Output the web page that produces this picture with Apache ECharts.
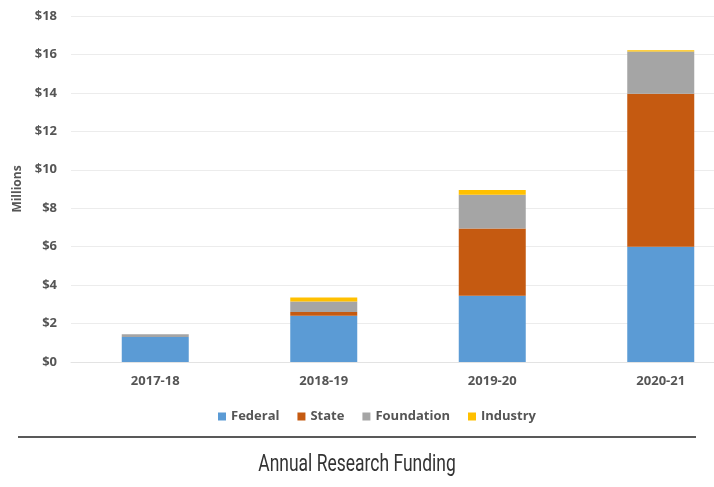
<!DOCTYPE html>
<html>
<head>
<meta charset="utf-8">
<style>
  html, body { margin: 0; padding: 0; background: #fff; overflow: hidden; width: 714px; height: 487px; }
  #chart { width: 745px; height: 487px; }
</style>
<script src="https://cdn.jsdelivr.net/npm/echarts@6/dist/echarts.min.js"></script>
</head>
<body>
<div id="chart"></div>
<script>
// Fiscal years on the category axis
const years = ['2017-18', '2018-19', '2019-20', '2020-21'];

// Funding by source, in millions of dollars
const federal    = [1.3, 2.4, 3.45, 6.0];
const state      = [0.0, 0.2, 3.5, 7.95];
const foundation = [0.15, 0.55, 1.75, 2.2];
const industry   = [0.0, 0.2, 0.25, 0.07];

// Value axis ticks
const yTicks = [0, 2, 4, 6, 8, 10, 12, 14, 16, 18];

const chart = echarts.init(document.getElementById('chart'), null, { renderer: 'canvas' });

const labelFont = { color: '#555', fontFamily: 'Open Sans, DejaVu Sans, sans-serif', fontWeight: 'bold', fontSize: 13 };

function stackSeries(name, data, color) {
  return {
    name: name,
    type: 'bar',
    stack: 'funding',
    data: data,
    barWidth: 67,
    itemStyle: { color: color },
    emphasis: { disabled: true }
  };
}

chart.setOption({
  animation: false,
  legend: {
    data: ['Federal', 'State', 'Foundation', 'Industry'],
    left: 213,
    top: 405,
    icon: 'rect',
    itemWidth: 8,
    itemHeight: 8,
    itemGap: 18,
    textStyle: Object.assign({}, labelFont, { fontSize: 13 })
  },
  grid: { left: 71, right: 0, top: 16, bottom: 125, containLabel: false },
  xAxis: {
    type: 'category',
    data: years,
    axisLine: { lineStyle: { color: '#e3e3e3' } },
    axisTick: { show: false },
    axisLabel: Object.assign({}, labelFont, { margin: 13 })
  },
  yAxis: {
    type: 'value',
    min: yTicks[0],
    max: yTicks[yTicks.length - 1],
    interval: 2,
    name: 'Millions',
    nameLocation: 'middle',
    nameGap: 44,
    nameRotate: 90,
    nameTextStyle: Object.assign({}, labelFont, { fontSize: 12 }),
    axisLine: { show: false },
    axisTick: { show: false },
    splitLine: { lineStyle: { color: '#ececec' } },
    axisLabel: Object.assign({}, labelFont, {
      margin: 14,
      formatter: v => '$' + v
    })
  },
  series: [
    stackSeries('Federal', federal, '#5B9BD5'),
    stackSeries('State', state, '#C55A11'),
    stackSeries('Foundation', foundation, '#A5A5A5'),
    stackSeries('Industry', industry, '#FFC000')
  ],
  graphic: [
    {
      type: 'line',
      shape: { x1: 18, y1: 437, x2: 696, y2: 437 },
      style: { stroke: '#222', lineWidth: 1.5 }
    },
    {
      type: 'text',
      x: 357,
      y: 465,
      scaleX: 0.76,
      style: {
        text: 'Annual Research Funding',
        font: 'normal 23px Roboto, sans-serif',
        fill: '#333',
        align: 'center',
        verticalAlign: 'middle'
      }
    }
  ]
});
</script>
</body>
</html>
